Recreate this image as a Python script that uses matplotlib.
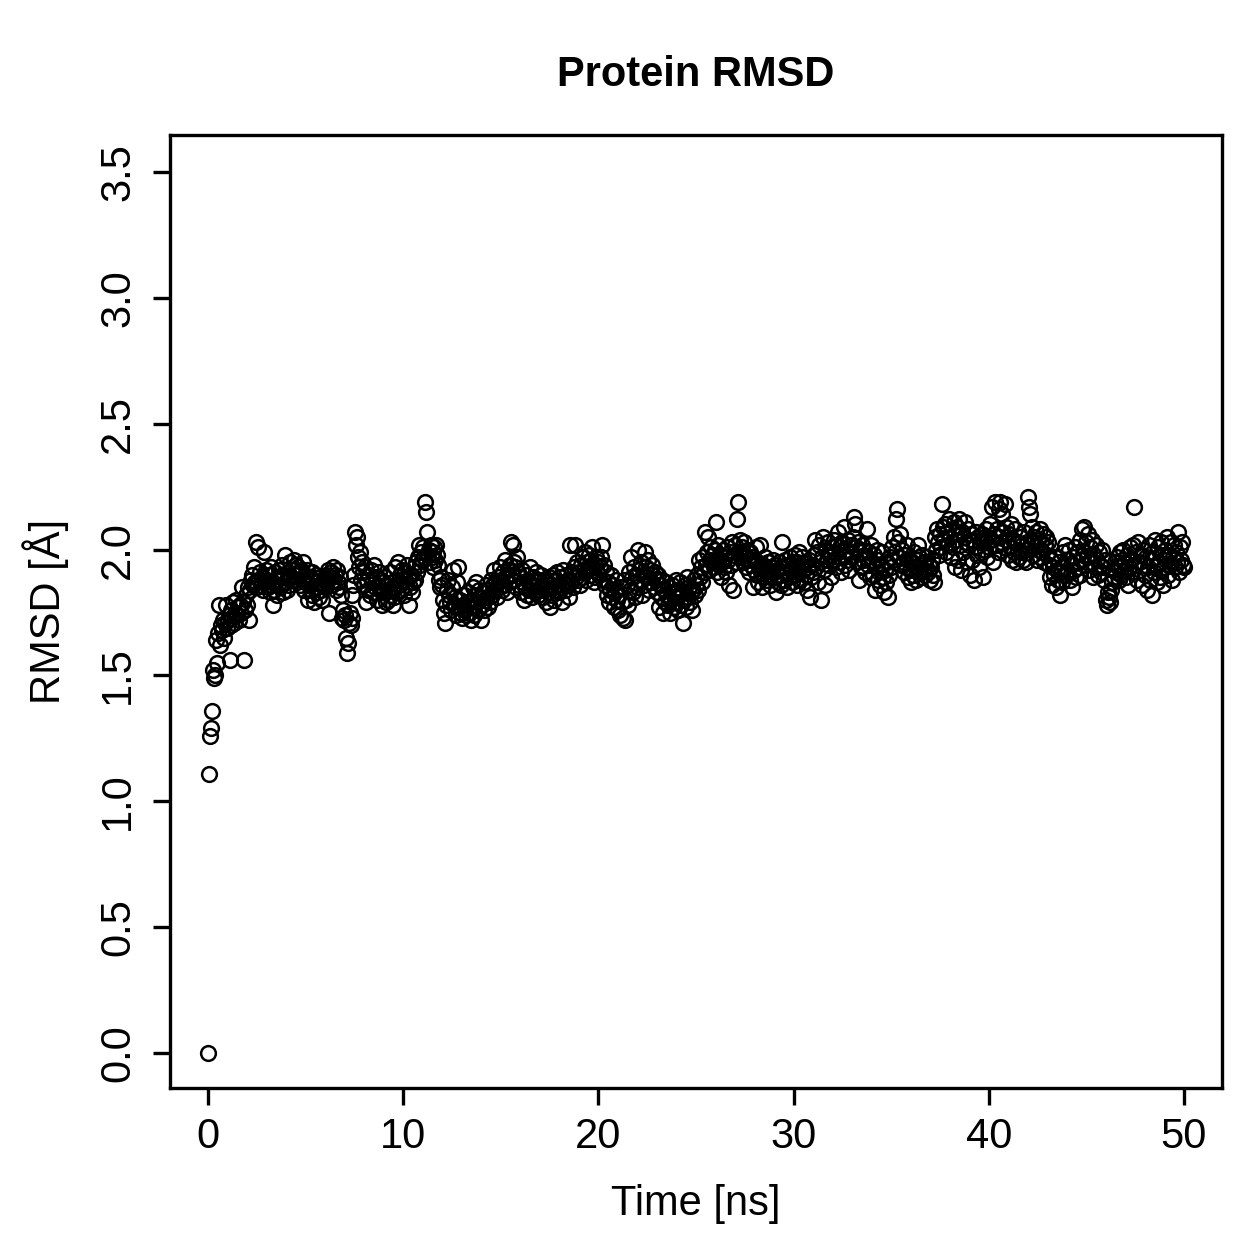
import numpy as np
import matplotlib
matplotlib.use("Agg")
import matplotlib.pyplot as plt

# RMSD values, one frame every 0.05 ns, grouped per 10 ns
frame_step = 0.05

rmsd_00_10 = [
    0.00, 1.11, 1.26, 1.29, 1.36, 1.52, 1.49, 1.50, 1.64, 1.55, 1.67, 1.78, 1.62, 1.70, 1.68, 1.72, 1.65, 1.71, 1.78, 1.69,
    1.72, 1.74, 1.56, 1.70, 1.76, 1.73, 1.79, 1.71, 1.75, 1.80, 1.74, 1.77, 1.72, 1.78, 1.75, 1.85, 1.79, 1.56, 1.76, 1.82,
    1.78, 1.85, 1.72, 1.84, 1.88, 1.90, 1.86, 1.93, 1.87, 2.03, 1.85, 2.01, 1.88, 1.91, 1.86, 1.89, 1.84, 1.99, 1.87, 1.92,
    1.88, 1.85, 1.90, 1.83, 1.93, 1.86, 1.87, 1.78, 1.84, 1.91, 1.88, 1.82, 1.86, 1.92, 1.85, 1.89, 1.94, 1.83, 1.90, 1.98,
    1.87, 1.84, 1.91, 1.86, 1.95, 1.89, 1.92, 1.88, 1.96, 1.90, 1.94, 1.87, 1.93, 1.91, 1.86, 1.92, 1.88, 1.95, 1.84, 1.90,
    1.87, 1.92, 1.80, 1.86, 1.89, 1.84, 1.91, 1.82, 1.88, 1.79, 1.85, 1.90, 1.83, 1.87, 1.81, 1.89, 1.84, 1.80, 1.86, 1.88,
    1.85, 1.90, 1.87, 1.92, 1.75, 1.89, 1.91, 1.86, 1.93, 1.88, 1.90, 1.84, 1.92, 1.87, 1.85, 1.89, 1.82, 1.73, 1.76, 1.72,
    1.74, 1.65, 1.59, 1.63, 1.71, 1.75, 1.70, 1.73, 1.82, 1.86, 1.90, 2.07, 2.02, 2.05, 1.97, 1.93, 1.99, 1.88, 1.95, 1.91,
    1.86, 1.93, 1.79, 1.88, 1.84, 1.90, 1.82, 1.92, 1.87, 1.83, 1.94, 1.85, 1.89, 1.80, 1.86, 1.91, 1.84, 1.88, 1.78, 1.87,
    1.83, 1.89, 1.79, 1.86, 1.80, 1.84, 1.91, 1.82, 1.87, 1.78, 1.85, 1.81, 1.93, 1.88, 1.83, 1.95, 1.86, 1.90, 1.84, 1.92,
]
rmsd_10_20 = [
    1.88, 1.82, 1.91, 1.86, 1.94, 1.89, 1.78, 1.85, 1.90, 1.83, 1.87, 1.93, 1.88, 1.95, 1.91, 1.97, 2.02, 1.94, 1.99, 1.96,
    2.01, 1.97, 2.19, 2.15, 2.07, 1.98, 2.00, 1.95, 2.02, 1.97, 1.93, 1.99, 2.01, 1.96, 2.02, 1.98, 1.94, 1.88, 1.85, 1.89,
    1.86, 1.80, 1.75, 1.71, 1.78, 1.84, 1.88, 1.82, 1.79, 1.76, 1.85, 1.92, 1.78, 1.81, 1.74, 1.87, 1.93, 1.77, 1.80, 1.75,
    1.73, 1.78, 1.82, 1.76, 1.74, 1.79, 1.83, 1.75, 1.77, 1.72, 1.80, 1.85, 1.78, 1.74, 1.82, 1.87, 1.79, 1.76, 1.84, 1.81,
    1.72, 1.78, 1.83, 1.76, 1.80, 1.86, 1.81, 1.77, 1.84, 1.79, 1.88, 1.82, 1.86, 1.92, 1.84, 1.87, 1.81, 1.89, 1.85, 1.93,
    1.88, 1.84, 1.91, 1.86, 1.96, 1.89, 1.83, 1.92, 1.87, 1.94, 2.03, 1.90, 2.02, 1.95, 1.88, 1.93, 1.85, 1.97, 1.91, 1.86,
    1.89, 1.83, 1.92, 1.87, 1.80, 1.85, 1.90, 1.82, 1.88, 1.84, 1.93, 1.86, 1.81, 1.89, 1.85, 1.83, 1.91, 1.87, 1.82, 1.88,
    1.84, 1.90, 1.86, 1.81, 1.88, 1.85, 1.79, 1.87, 1.83, 1.89, 1.77, 1.86, 1.82, 1.90, 1.85, 1.80, 1.88, 1.84, 1.91, 1.86,
    1.83, 1.89, 1.85, 1.79, 1.92, 1.87, 1.84, 1.90, 1.86, 1.88, 1.81, 2.02, 1.87, 1.91, 1.85, 1.93, 2.02, 1.89, 1.95, 1.88,
    1.91, 1.86, 1.94, 1.89, 1.97, 1.92, 1.99, 1.88, 1.95, 1.93, 1.98, 1.90, 1.96, 2.01, 1.92, 1.87, 1.94, 1.89, 1.97, 1.91,
]
rmsd_20_30 = [
    1.95, 1.90, 1.93, 1.97, 2.02, 1.88, 1.94, 1.86, 1.91, 1.82, 1.87, 1.79, 1.84, 1.90, 1.81, 1.86, 1.77, 1.83, 1.88, 1.80,
    1.76, 1.82, 1.74, 1.85, 1.79, 1.73, 1.88, 1.72, 1.80, 1.86, 1.78, 1.91, 1.84, 1.97, 1.89, 1.83, 1.93, 1.87, 1.81, 1.90,
    1.85, 2.00, 1.92, 1.88, 1.95, 1.82, 1.90, 1.86, 1.99, 1.93, 1.89, 1.96, 1.84, 1.92, 1.87, 1.94, 1.90, 1.85, 1.91, 1.88,
    1.83, 1.90, 1.77, 1.86, 1.81, 1.88, 1.75, 1.84, 1.79, 1.87, 1.82, 1.78, 1.85, 1.75, 1.80, 1.86, 1.83, 1.77, 1.81, 1.88,
    1.79, 1.84, 1.76, 1.82, 1.87, 1.78, 1.83, 1.71, 1.80, 1.86, 1.77, 1.89, 1.81, 1.85, 1.79, 1.83, 1.76, 1.84, 1.88, 1.82,
    1.86, 1.90, 1.84, 1.96, 1.89, 1.93, 1.87, 1.97, 1.91, 2.07, 1.94, 1.99, 2.05, 1.92, 1.96, 2.01, 1.95, 1.98, 1.93, 2.00,
    2.11, 1.96, 1.91, 2.02, 1.94, 1.98, 1.89, 1.95, 2.00, 1.93, 1.97, 1.91, 2.01, 1.96, 1.86, 1.99, 1.94, 2.03, 1.84, 1.98,
    2.02, 1.95, 2.12, 2.19, 1.99, 2.04, 1.97, 2.01, 1.95, 2.03, 1.98, 1.93, 2.00, 1.96, 1.91, 1.99, 1.94, 1.97, 1.85, 1.92,
    1.96, 2.01, 1.90, 1.95, 1.87, 1.93, 2.02, 1.91, 1.85, 1.94, 1.89, 1.97, 1.92, 1.88, 1.95, 1.90, 1.86, 1.93, 1.91, 1.96,
    1.89, 1.94, 1.83, 1.92, 1.87, 1.95, 1.90, 1.86, 2.03, 1.93, 1.88, 1.96, 1.91, 1.85, 1.94, 1.89, 1.97, 1.92, 1.87, 1.95,
]
rmsd_30_40 = [
    1.90, 1.98, 1.93, 1.86, 1.95, 1.91, 1.99, 1.88, 1.94, 1.97, 1.92, 1.87, 1.95, 1.90, 1.84, 1.93, 1.96, 1.81, 1.89, 1.94,
    1.91, 1.98, 2.04, 1.93, 1.99, 1.87, 2.02, 1.95, 1.80, 1.97, 2.05, 1.92, 1.86, 2.00, 1.96, 2.03, 1.94, 1.98, 1.89, 2.01,
    1.96, 2.04, 1.99, 1.93, 2.02, 1.97, 2.07, 1.95, 2.01, 1.91, 2.03, 1.98, 2.09, 1.94, 2.00, 1.96, 2.04, 1.92, 1.99, 2.02,
    1.97, 2.05, 2.13, 2.10, 2.01, 1.95, 2.03, 1.88, 1.99, 1.93, 2.02, 1.96, 2.00, 1.91, 1.97, 2.08, 1.94, 1.99, 1.89, 2.02,
    1.95, 1.90, 1.98, 1.84, 1.93, 2.00, 1.88, 1.96, 1.91, 1.86, 1.94, 1.99, 1.89, 1.83, 1.92, 1.87, 1.95, 1.81, 1.90, 1.97,
    1.93, 2.01, 1.96, 2.05, 1.99, 2.12, 2.16, 2.03, 1.97, 2.06, 1.94, 2.00, 1.95, 1.91, 1.98, 1.93, 2.02, 1.89, 1.96, 1.92,
    1.87, 1.95, 1.90, 1.99, 1.93, 1.88, 1.96, 2.02, 1.91, 1.97, 1.94, 1.89, 1.98, 1.92, 1.95, 1.90, 1.93, 1.97, 1.91, 1.94,
    1.88, 1.93, 1.96, 1.90, 1.87, 2.05, 2.00, 2.08, 2.03, 1.98, 2.06, 2.01, 2.18, 2.09, 2.04, 2.10, 1.99, 2.07, 2.02, 2.12,
    2.05, 1.97, 2.08, 2.01, 2.11, 1.93, 2.04, 2.09, 1.96, 2.06, 2.12, 2.02, 1.92, 2.07, 1.99, 2.05, 2.11, 2.03, 1.95, 2.08,
    2.02, 1.90, 2.06, 1.96, 2.04, 1.88, 2.01, 2.07, 1.98, 2.05, 1.93, 2.03, 1.99, 2.06, 1.89, 2.04, 2.00, 2.08, 1.97, 2.05,
]
rmsd_40_50 = [
    2.01, 2.10, 2.04, 2.17, 1.95, 2.06, 2.19, 2.02, 2.08, 1.99, 2.05, 2.16, 2.19, 2.03, 2.14, 2.07, 2.01, 2.18, 2.09, 2.04,
    1.98, 2.06, 2.01, 2.10, 1.96, 2.04, 1.99, 2.08, 1.95, 2.03, 2.00, 1.97, 2.05, 1.99, 2.02, 1.96, 2.07, 2.00, 1.95, 2.03,
    2.21, 2.17, 2.14, 2.03, 2.09, 1.98, 2.05, 2.01, 2.07, 1.96, 2.04, 2.00, 2.08, 1.97, 2.03, 1.99, 2.06, 1.95, 2.02, 2.05,
    1.98, 2.03, 1.94, 1.89, 1.96, 1.86, 1.93, 1.90, 1.97, 1.85, 1.92, 1.88, 1.95, 1.82, 1.91, 1.87, 1.99, 1.93, 2.02, 1.90,
    1.96, 1.91, 2.00, 1.88, 1.94, 1.85, 1.97, 1.92, 2.01, 1.89, 1.95, 1.99, 1.93, 2.04, 1.90, 1.96, 2.08, 1.98, 2.09, 1.94,
    2.03, 1.97, 2.06, 1.92, 2.01, 1.95, 2.04, 1.89, 1.98, 1.93, 2.02, 1.96, 1.90, 1.99, 1.94, 1.91, 2.00, 1.93, 1.88, 1.96,
    1.80, 1.78, 1.83, 1.81, 1.79, 1.84, 1.87, 1.92, 1.89, 1.95, 1.91, 1.97, 1.93, 1.88, 1.99, 1.94, 1.90, 1.96, 2.00, 1.92,
    1.95, 1.89, 1.98, 1.86, 1.93, 2.01, 1.96, 1.91, 2.02, 2.17, 1.94, 1.99, 1.88, 2.03, 1.95, 1.92, 1.98, 1.86, 2.00, 1.94,
    1.90, 1.97, 1.84, 1.93, 2.02, 1.88, 1.96, 1.82, 1.99, 1.91, 2.04, 1.94, 1.87, 2.01, 1.95, 1.89, 2.03, 1.92, 1.98, 1.86,
    1.93, 2.00, 1.96, 2.05, 1.90, 1.98, 1.94, 2.03, 1.88, 1.97, 2.02, 1.93, 1.99, 1.95, 2.07, 1.91, 2.01, 1.96, 2.03, 1.94,
    1.93,
]

rmsd = np.array(rmsd_00_10 + rmsd_10_20 + rmsd_20_30 + rmsd_30_40 + rmsd_40_50)
time_ns = np.arange(len(rmsd)) * frame_step

plt.rcParams["font.family"] = ["Liberation Sans", "DejaVu Sans"]

fig = plt.figure(figsize=(12.59, 12.59), dpi=100)
ax = fig.add_axes([170 / 1259, 1 - 1088 / 1259, (1222 - 170) / 1259, (1088 - 135) / 1259])

ax.plot(time_ns, rmsd, linestyle="none", marker="o", markersize=10.6,
        markerfacecolor="none", markeredgecolor="black", markeredgewidth=1.8)

ax.set_xlim(-1.95, 51.95)
ax.set_ylim(-0.139, 3.647)
ax.set_xticks([0, 10, 20, 30, 40, 50])
ax.set_yticks([0.0, 0.5, 1.0, 1.5, 2.0, 2.5, 3.0, 3.5])
ax.set_yticklabels(["0.0", "0.5", "1.0", "1.5", "2.0", "2.5", "3.0", "3.5"],
                   rotation=90, va="center")

for s in ax.spines.values():
    s.set_linewidth(2.4)
ax.tick_params(axis="both", length=12, width=2.4, labelsize=30)
ax.tick_params(axis="x", pad=9)
ax.tick_params(axis="y", pad=11)

ax.set_xlabel("Time [ns]", fontsize=30, labelpad=19)
ax.set_ylabel("RMSD [Å]", fontsize=30, labelpad=21)
ax.set_title("Protein RMSD", fontsize=30, fontweight="bold", pad=35)

fig.savefig("out.png", dpi=100)
